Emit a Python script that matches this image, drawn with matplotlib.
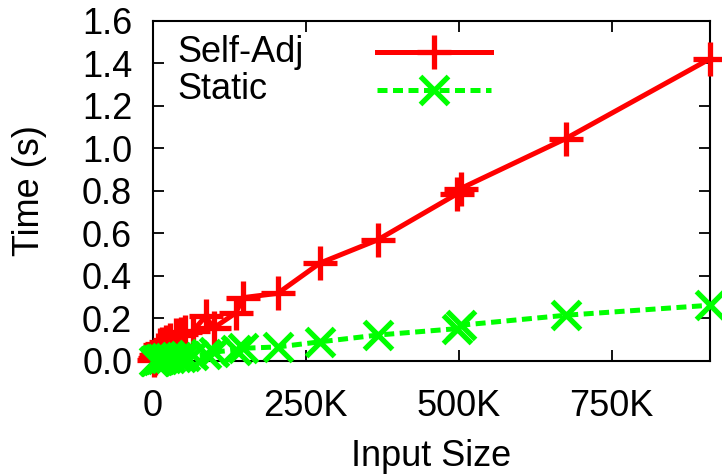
import matplotlib
matplotlib.use("Agg")
import matplotlib.pyplot as plt
from matplotlib.ticker import FuncFormatter

# input sizes (elements) and run times (s)
sizes = [1000, 3000, 5000, 8000, 11000, 15000, 21000, 28000, 38000, 45000,
         52000, 65000, 86000, 99000, 135000, 148000, 204000, 273000,
         368000, 497000, 503000, 675000, 911000]
self_adj = [0.004, 0.015, 0.03, 0.05, 0.075, 0.08, 0.09, 0.1, 0.12, 0.125,
            0.135, 0.14, 0.21, 0.155, 0.225, 0.298, 0.318, 0.46,
            0.57, 0.785, 0.81, 1.045, 1.42]
static = [0.0, 0.002, 0.004, 0.006, 0.008, 0.01, 0.013, 0.015, 0.018, 0.02,
          0.022, 0.026, 0.032, 0.042, 0.052, 0.06, 0.066, 0.09,
          0.122, 0.152, 0.168, 0.215, 0.262]

x_ticks = [0, 250000, 500000, 750000]
y_ticks = [0.0, 0.2, 0.4, 0.6, 0.8, 1.0, 1.2, 1.4, 1.6]

plt.rcParams["font.family"] = ["Liberation Sans", "DejaVu Sans"]
FS = 26

fig = plt.figure(figsize=(7.22, 4.74), dpi=100)
ax = fig.add_axes([153 / 722, 1 - 361 / 474, (710 - 153) / 722, (361 - 20.5) / 474])

red = "#ff0000"
green = "#00ff00"
lw = 3.6
ms_plus = 24
ms_x = 20
mew = 3.8

ax.plot(sizes, self_adj, color=red, lw=lw, marker="+", ms=ms_plus, mew=mew,
        clip_on=False, zorder=3)
ax.plot(sizes, static, color=green, lw=lw, dashes=(2, 1.1), marker="x",
        ms=ms_x, mew=mew, clip_on=False, zorder=4)

ax.set_xlim(0, sizes[-1])
ax.set_ylim(0, 1.6)
ax.set_xticks(x_ticks)
ax.set_yticks(y_ticks)
ax.xaxis.set_major_formatter(FuncFormatter(lambda v, p: "0" if v == 0 else f"{v / 1000:.0f}K"))
ax.yaxis.set_major_formatter(FuncFormatter(lambda v, p: f"{v:.1f}"))
ax.tick_params(direction="in", length=8, width=1.3, top=True, right=True,
               labelsize=FS)
ax.tick_params(axis="y", pad=15)
ax.tick_params(axis="x", pad=20)
for s in ax.spines.values():
    s.set_linewidth(1.5)

ax.set_xlabel("Input Size", fontsize=FS, labelpad=11)
ax.set_ylabel("Time (s)", fontsize=FS, labelpad=25)

# gnuplot-style key: left-justified text, sample line to the right
keys = [("Self-Adj", red, "+", None, ms_plus), ("Static", green, "x", (2, 1.1), ms_x)]
for i, (label, col, mk, dash, msz) in enumerate(keys):
    yk = 1 - (52 - 20.5) / 340.5 - i * (37.5 / 340.5)
    ax.text((177 - 153) / 557, yk, label, transform=ax.transAxes,
            fontsize=FS, va="center", ha="left")
    ln, = ax.plot([(377 - 153) / 557, (491 - 153) / 557], [yk, yk],
                  transform=ax.transAxes, color=col, lw=lw, clip_on=False)
    if dash:
        ln.set_dashes(dash)
    ax.plot([(434 - 153) / 557], [yk], transform=ax.transAxes, color=col,
            marker=mk, ms=msz, mew=mew, clip_on=False, ls="none")

fig.savefig("out.png", dpi=100)
